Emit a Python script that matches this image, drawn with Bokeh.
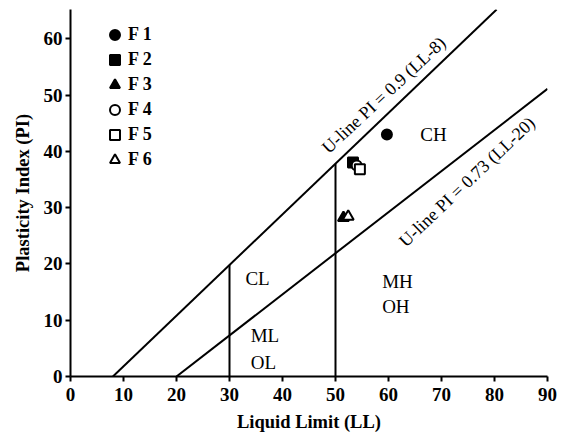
import math
from bokeh.plotting import figure
from bokeh.models import Range1d, Legend, LegendItem, FixedTicker
from bokeh.embed import file_html
from bokeh.resources import INLINE
from bokeh.core.properties import value

# --- data ---
samples = ["F 1", "F 2", "F 3", "F 4", "F 5", "F 6"]
sample_ll = [59.7, 53.3, 51.5, 54.0, 54.6, 52.4]
sample_pi = [43.0, 38.0, 28.2, 37.5, 36.8, 28.4]
sample_marker = ["circle", "square", "triangle", "circle", "square", "triangle"]
sample_filled = [True, True, True, False, False, False]

uline_ll = [8, 80.4]
uline_pi = [0, 65.2]
aline_ll = [20, 90]
aline_pi = [0, 51.1]
div30_ll = [30, 30]
div30_pi = [0, 19.8]
div50_ll = [50, 50]
div50_pi = [0, 37.8]

region_names = ["CL", "ML", "OL", "MH", "OH", "CH"]
region_ll = [33.0, 34.0, 34.0, 58.8, 58.8, 66.0]
region_pi = [17.4, 7.2, 2.4, 16.8, 12.5, 43.0]

line_labels = ["U-line PI = 0.9 (LL-8)", "U-line PI = 0.73 (LL-20)"]
line_label_ll = [59.1, 74.8]
line_label_pi = [50.0, 34.6]
line_label_deg = [43.0, 43.5]

x_ticks = [0, 10, 20, 30, 40, 50, 60, 70, 80, 90]
y_ticks = [0, 10, 20, 30, 40, 50, 60]

FONT = "Liberation Serif"

p = figure(frame_width=477, frame_height=367, output_backend="svg", toolbar_location=None,
           x_range=Range1d(0, 90), y_range=Range1d(0, 65.2),
           min_border_left=70, min_border_right=14, min_border_top=9, min_border_bottom=54)
p.outline_line_color = None
p.xgrid.visible = False
p.ygrid.visible = False

for ax in (p.xaxis[0], p.yaxis[0]):
    ax.axis_line_width = 2
    ax.major_tick_line_width = 2
    ax.major_tick_out = 5
    ax.major_tick_in = 0
    ax.minor_tick_line_color = None
    ax.major_label_text_font = FONT
    ax.major_label_text_font_style = "bold"
    ax.major_label_text_font_size = "19px"
    ax.major_label_text_color = "black"
    ax.axis_label_text_font = FONT
    ax.axis_label_text_font_style = "bold"
    ax.axis_label_text_font_size = "18.5px"
    ax.axis_label_text_color = "black"
    ax.axis_line_color = "black"
    ax.major_tick_line_color = "black"

p.xaxis.ticker = FixedTicker(ticks=x_ticks)
p.yaxis.ticker = FixedTicker(ticks=y_ticks)
p.xaxis.axis_label = "Liquid Limit (LL)"
p.yaxis.axis_label = "Plasticity Index (PI)"
p.xaxis.major_label_standoff = 6
p.xaxis.axis_label_standoff = 8
p.yaxis.major_label_standoff = 3
p.yaxis.axis_label_standoff = 8

# lines
for xs, ys in [(uline_ll, uline_pi), (aline_ll, aline_pi), (div30_ll, div30_pi), (div50_ll, div50_pi)]:
    p.line(xs, ys, line_color="black", line_width=2)

# region labels
p.text(x=region_ll, y=region_pi, text=region_names, text_font=value(FONT),
       text_font_size="19px", text_align="left", text_baseline="middle", text_color="black")

# line labels
p.text(x=line_label_ll, y=line_label_pi, text=line_labels, angle=[math.radians(a) for a in line_label_deg],
       text_font=value(FONT), text_font_size="18px", text_align="center", text_baseline="middle",
       text_color="black")

# samples
items = []
for name, xv, yv, mk, fl in zip(samples, sample_ll, sample_pi, sample_marker, sample_filled):
    r = p.scatter(x=[xv], y=[yv], marker=mk, size=10 if mk != "triangle" else 11,
                  fill_color="black" if fl else "white", line_color="black", line_width=2)
    items.append(LegendItem(label=name, renderers=[r]))

legend = Legend(items=items, location=(32, 204))
legend.border_line_alpha = 0
legend.background_fill_alpha = 0
legend.label_text_font = FONT
legend.label_text_font_style = "bold"
legend.label_text_font_size = "18px"
legend.label_text_color = "black"
legend.glyph_width = 25
legend.glyph_height = 25
legend.label_height = 25
legend.spacing = 0
legend.padding = 0
legend.margin = 0
legend.label_standoff = 1
p.add_layout(legend)

open("out.html", "w").write(file_html(p, INLINE))
